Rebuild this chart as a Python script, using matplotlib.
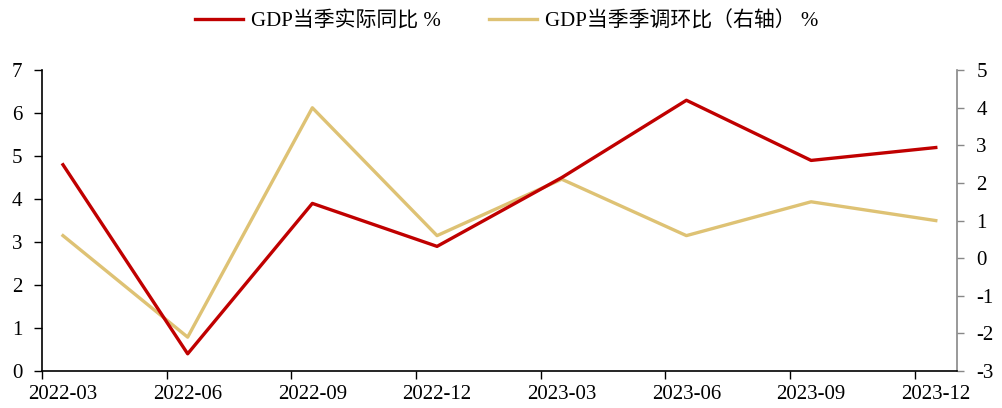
import matplotlib
matplotlib.use("Agg")
import matplotlib.pyplot as plt
import numpy as np

plt.rcParams['font.family'] = ['Liberation Serif', 'Noto Sans CJK SC']
plt.rcParams['axes.unicode_minus'] = False

quarters = ['2022-03', '2022-06', '2022-09', '2022-12',
            '2023-03', '2023-06', '2023-09', '2023-12']
yoy = [4.8, 0.4, 3.9, 2.9, 4.5, 6.3, 4.9, 5.2]       # 当季实际同比
qoq = [0.6, -2.1, 4.0, 0.6, 2.1, 0.6, 1.5, 1.0]      # 季调环比（右轴）

red = '#C00000'
tan = '#DEC274'

fig = plt.figure(figsize=(10.03, 4.08), dpi=100)
ax = fig.add_axes([0.0419, 0.0907, 0.9121, 0.7373])
ax2 = ax.twinx()

k = np.arange(len(quarters))
xp = k + 0.168  # 点在刻度右侧一点

l1, = ax.plot(xp, yoy, color=red, lw=2.4, label='GDP当季实际同比 %')
l2, = ax2.plot(xp, qoq, color=tan, lw=2.4, label='GDP当季季调环比（右轴） %')
ax.set_zorder(ax2.get_zorder() + 1)
ax.patch.set_visible(False)

ax.set_xlim(0, len(quarters) - 1 + 0.337)
ax.set_ylim(0, 7)
ax2.set_ylim(-3, 5)
ax.set_yticks(range(0, 8))
ax2.set_yticks(range(-3, 6))

# 刻度线放在分界处，标签放在数据点下
ax.set_xticks(k)
ax.set_xticklabels([])
ax.set_xticks(xp, minor=True)
ax.set_xticklabels(quarters, minor=True)
ax.tick_params(axis='x', which='major', direction='out', length=6, width=1, color='black')
ax.tick_params(axis='x', which='minor', length=0, labelsize=15, pad=10)
ax.tick_params(axis='y', direction='out', length=6, width=1, labelsize=15, pad=8)
ax2.tick_params(axis='y', direction='out', length=5, width=1, color='#888888',
                labelsize=15, pad=9)

for s in ['top']:
    ax.spines[s].set_visible(False)
    ax2.spines[s].set_visible(False)
ax.spines['right'].set_visible(False)
ax2.spines['left'].set_visible(False)
ax2.spines['bottom'].set_visible(False)
ax2.spines['right'].set_color('#888888')
ax.spines['left'].set_linewidth(1.2)
ax.spines['bottom'].set_linewidth(1.2)
ax2.spines['right'].set_linewidth(1.2)

fig.legend(handles=[l1, l2], loc='center', bbox_to_anchor=(0.505, 0.948), ncol=2,
           frameon=False, fontsize=15, handlelength=2.3, handletextpad=0.4,
           columnspacing=2.3)

fig.savefig('out.png', dpi=100)
